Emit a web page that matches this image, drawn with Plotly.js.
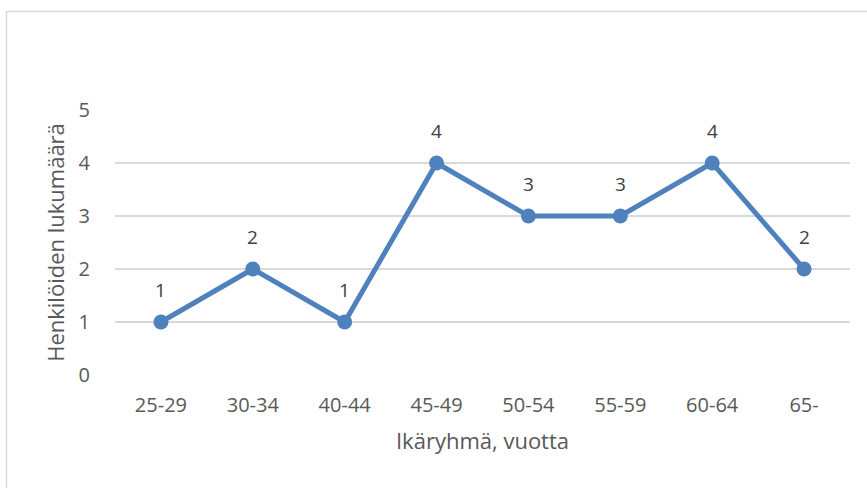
<!DOCTYPE html>
<html>
<head>
<meta charset="utf-8">
<script src="https://cdn.plot.ly/plotly-3.0.1.min.js"></script>
<style>
html,body{margin:0;padding:0;background:#fff;}
#chart{width:867px;height:488px;}
</style>
</head>
<body>
<div id="chart"></div>
<script>
const categories = ["25-29","30-34","40-44","45-49","50-54","55-59","60-64","65-"];
const counts = [1,2,1,4,3,3,4,2];
const yTicks = [0,1,2,3,4,5];

const FONT = "'Open Sans', 'Noto Sans', sans-serif";
const L = 115, R = 17, T = 110, B = 113, W = 867, H = 488;
const pw = W - L - R, ph = H - T - B;

const trace = {
  x: categories,
  y: counts,
  type: 'scatter',
  mode: 'lines+markers',
  line: {color: '#4F81BD', width: 5},
  marker: {color: '#4F81BD', size: 15},
  hoverinfo: 'skip'
};

const annotations = categories.map((c, i) => ({
  x: c, y: counts[i], xref: 'x', yref: 'y',
  text: String(counts[i]), showarrow: false,
  yshift: 32, yanchor: 'middle', xanchor: 'center',
  font: {family: FONT, size: 19, color: '#404040'}
}));

const layout = {
  width: W, height: H,
  margin: {l: L, r: R, t: T, b: B, pad: 0},
  paper_bgcolor: '#ffffff',
  plot_bgcolor: '#ffffff',
  showlegend: false,
  font: {family: FONT, color: '#595959'},
  xaxis: {
    type: 'category',
    range: [-0.5, categories.length - 0.5],
    showgrid: false, zeroline: false, showline: false,
    ticks: 'outside', ticklen: 12, tickcolor: 'rgba(0,0,0,0)',
    tickfont: {family: FONT, size: 20, color: '#595959'},
    title: {text: 'Ikäryhmä, vuotta', font: {family: FONT, size: 22, color: '#595959'}, standoff: 16},
    fixedrange: true
  },
  yaxis: {
    range: [0, 5],
    tickvals: yTicks,
    showgrid: true, gridcolor: '#d9d9d9', gridwidth: 1.5,
    zeroline: false, showline: false,
    ticks: 'outside', ticklen: 20, tickcolor: 'rgba(0,0,0,0)',
    tickfont: {family: FONT, size: 20, color: '#595959'},
    title: {text: 'Henkilöiden lukumäärä', font: {family: FONT, size: 22, color: '#595959'}, standoff: 7},
    fixedrange: true
  },
  annotations: annotations,
  shapes: [{
    type: 'rect', xref: 'paper', yref: 'paper',
    x0: (6.5 - L) / pw, x1: (W + 20 - L) / pw,
    y0: -(H + 20 - T - ph) / ph, y1: 1 + (T - 11.5) / ph,
    line: {color: '#d9d9d9', width: 1.5},
    fillcolor: 'rgba(0,0,0,0)', layer: 'below'
  }]
};

Plotly.newPlot('chart', [trace], layout, {displayModeBar: false, staticPlot: true});
</script>
</body>
</html>
